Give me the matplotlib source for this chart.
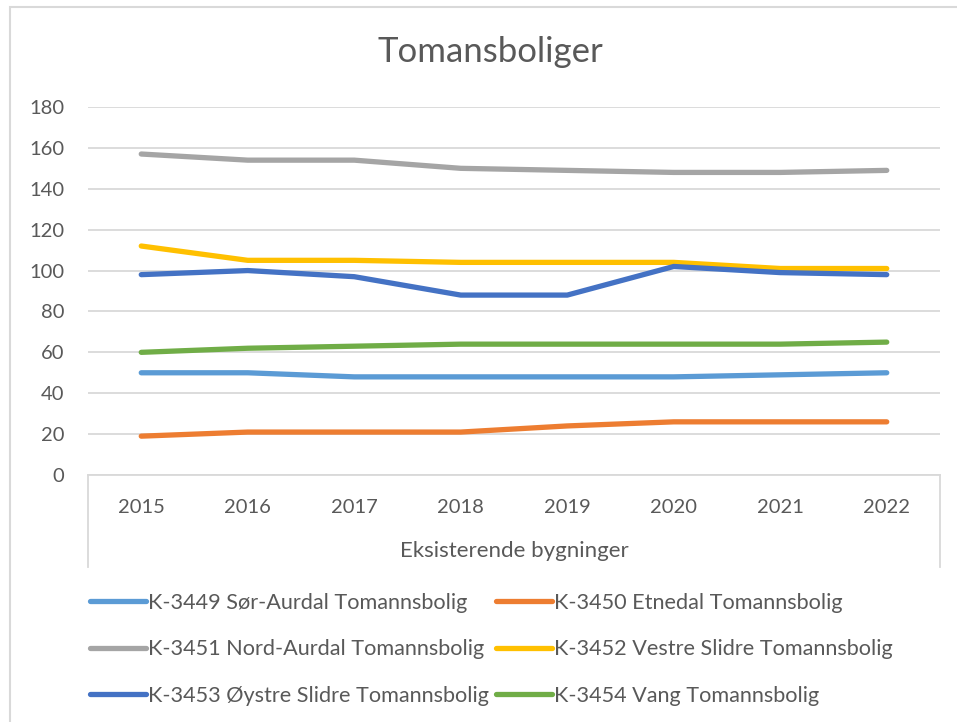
import matplotlib.pyplot as plt
from matplotlib.lines import Line2D
from matplotlib.patches import Rectangle

plt.rcParams['font.family'] = ['Lato', 'DejaVu Sans']

years = ['2015', '2016', '2017', '2018', '2019', '2020', '2021', '2022']

sor_aurdal = [50, 50, 48, 48, 48, 48, 49, 50]
etnedal = [19, 21, 21, 21, 24, 26, 26, 26]
nord_aurdal = [157, 154, 154, 150, 149, 148, 148, 149]
vestre_slidre = [112, 105, 105, 104, 104, 104, 101, 101]
oystre_slidre = [98, 100, 97, 88, 88, 102, 99, 98]
vang = [60, 62, 63, 64, 64, 64, 64, 65]

labels = ['K-3449 Sør-Aurdal Tomannsbolig', 'K-3450 Etnedal Tomannsbolig',
          'K-3451 Nord-Aurdal Tomannsbolig', 'K-3452 Vestre Slidre Tomannsbolig',
          'K-3453 Øystre Slidre Tomannsbolig', 'K-3454 Vang Tomannsbolig']
colors = ['#5B9BD5', '#ED7D31', '#A5A5A5', '#FFC000', '#4472C4', '#70AD47']
series = [sor_aurdal, etnedal, nord_aurdal, vestre_slidre, oystre_slidre, vang]

txt = '#595959'
W, H = 957, 722

fig = plt.figure(figsize=(9.57, 7.22), dpi=100)
ax = fig.add_axes([88 / W, 1 - 475 / H, (940 - 88) / W, (475 - 107) / H])

# chart border
fig.patches.append(Rectangle((10 / W, -0.1), 1.2, 1 - 7 / H + 0.1, transform=fig.transFigure,
                             fill=False, edgecolor='#D9D9D9', lw=1.5))

x = range(len(years))
handles = []
for s, c, lab in zip(series, colors, labels):
    ln, = ax.plot(x, s, color=c, lw=3.8, solid_capstyle='round', solid_joinstyle='round', label=lab)
    handles.append(ln)

ax.set_xlim(-0.5, len(years) - 0.5)
ax.set_ylim(0, 180)
ax.set_yticks(range(0, 181, 20))
ax.set_xticks(list(x))
ax.set_xticklabels(years)
ax.grid(axis='y', color='#D9D9D9', lw=1.3)
ax.set_axisbelow(True)
for sp in ['top', 'right', 'left']:
    ax.spines[sp].set_visible(False)
ax.spines['bottom'].set_color('#D9D9D9')
ax.spines['bottom'].set_linewidth(1.3)
ax.tick_params(axis='both', length=0, colors=txt, labelsize=14.5)
ax.tick_params(axis='x', pad=17)
ax.tick_params(axis='y', pad=17)

# box lines around category axis
for xx in [88, 940]:
    fig.add_artist(Line2D([xx / W, xx / W], [1 - 475 / H, 1 - 567 / H], color='#D9D9D9', lw=1.3))

fig.text(514 / W, 1 - 551 / H, 'Eksisterende bygninger', ha='center', va='center', color=txt, fontsize=16)
fig.text(490 / W, 1 - 52 / H, 'Tomansboliger', ha='center', va='center', color=txt, fontsize=25)

# legend is filled row by row in the reference
order = [0, 2, 4, 1, 3, 5]
fig.legend([handles[i] for i in order], [labels[i] for i in order], ncol=2,
           loc='upper left', bbox_to_anchor=(90 / W, 1 - 593 / H), frameon=False,
           fontsize=15.6, labelcolor=txt, handlelength=2.6, handletextpad=0.1,
           columnspacing=0.3, labelspacing=1.22, borderpad=0, borderaxespad=0)

fig.savefig('out.png', dpi=100)
